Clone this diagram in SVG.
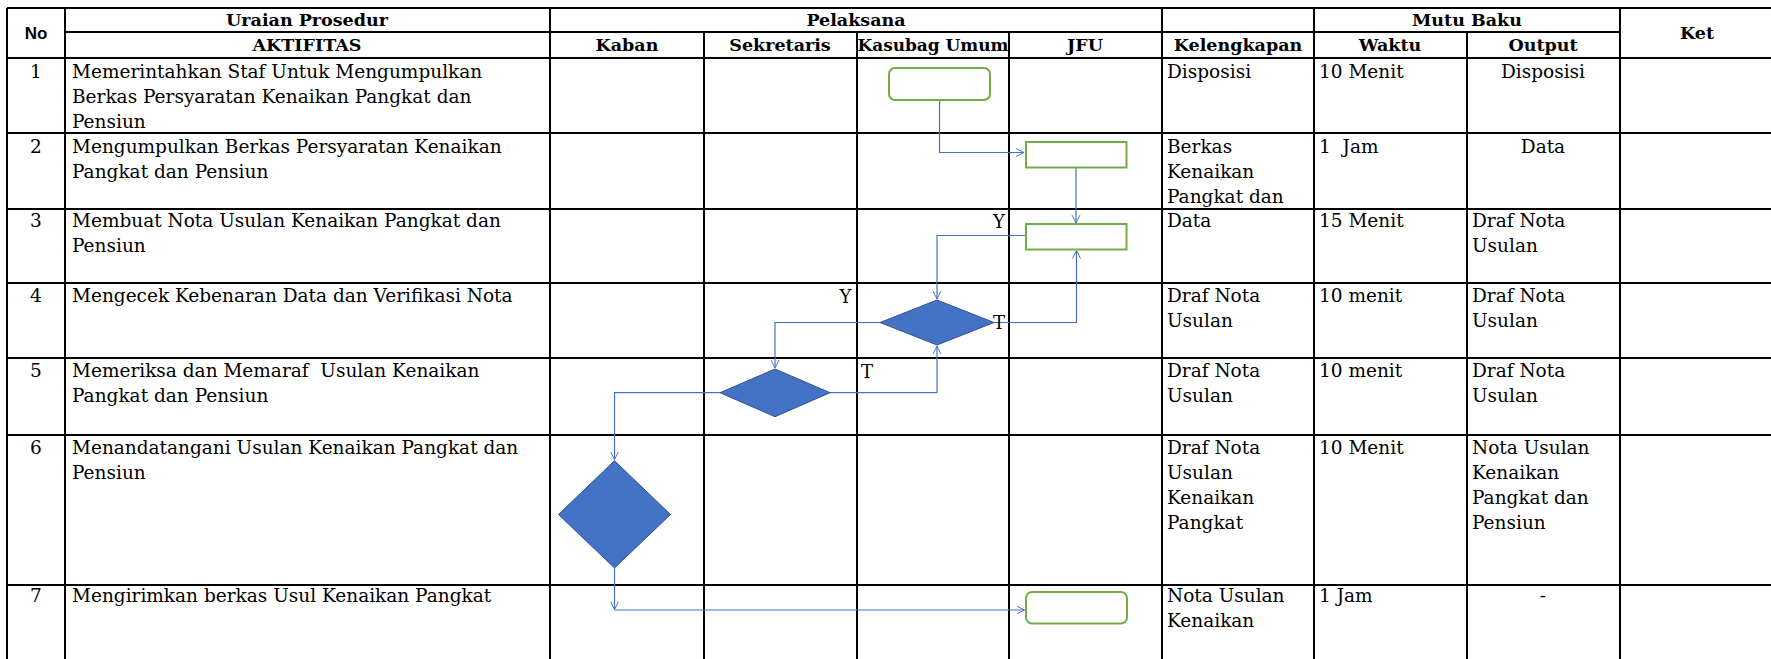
<svg xmlns="http://www.w3.org/2000/svg" width="1771" height="659" viewBox="0 0 1771 659">
<style>
.g{stroke:#000;stroke-width:2;fill:none}
.t{font-family:"DejaVu Serif",serif;font-size:18.5px;fill:#000;white-space:pre}
.h{font-family:"DejaVu Serif",serif;font-size:17.5px;font-weight:bold;fill:#000;text-anchor:middle}
.c{text-anchor:middle}
.box{fill:#fff;stroke:#70AD47;stroke-width:2}
.dia{fill:#4472C4;stroke:#2F528F;stroke-width:1}
.ln{fill:none;stroke:#4472C4;stroke-width:1.2;marker-end:url(#ah)}
.lbl{font-family:"DejaVu Serif",serif;font-size:18px;fill:#000;text-anchor:middle}
</style>
<defs>
<marker id="ah" viewBox="0 0 10 10" refX="10" refY="5" markerWidth="8" markerHeight="10" markerUnits="userSpaceOnUse" orient="auto">
<path d="M0,0 L10,5 L0,10" fill="none" stroke="#4472C4" stroke-width="1.2"/>
</marker>
</defs>
<rect width="1771" height="659" fill="#fff"/>
<g id="grid">
<path class="g" d="M7,8H1771 M65,32H1620 M7,58H1771 M7,133H1771 M7,209H1771 M7,283H1771 M7,358H1771 M7,435H1771 M7,585H1771"/>
<path class="g" d="M7,8V659 M65,8V659 M550,8V659 M1162,8V659 M1314,8V659 M1620,8V659 M704,32V659 M857,32V659 M1009,32V659 M1467,32V659"/>
</g>
<g id="header">
<text x="36" y="39" style="font-family:'Liberation Sans',sans-serif;font-size:17px;font-weight:bold" text-anchor="middle">No</text>
<text class="h" x="307" y="26">Uraian Prosedur</text>
<text class="h" x="307" y="51">AKTIFITAS</text>
<text class="h" x="856" y="26">Pelaksana</text>
<text class="h" x="627" y="51">Kaban</text>
<text class="h" x="780" y="51">Sekretaris</text>
<text class="h" x="857.5" y="51" style="text-anchor:start" textLength="151" lengthAdjust="spacingAndGlyphs">Kasubag Umum</text>
<text class="h" x="1085" y="51">JFU</text>
<text class="h" x="1238" y="51">Kelengkapan</text>
<text class="h" x="1467" y="26">Mutu Baku</text>
<text class="h" x="1390" y="51">Waktu</text>
<text class="h" x="1543" y="51">Output</text>
<text class="h" x="1697" y="39">Ket</text>
</g>
<g id="rows">
<text class="t c" x="36" y="78">1</text>
<text class="t" x="72" y="78"><tspan x="72">Memerintahkan Staf Untuk Mengumpulkan</tspan><tspan x="72" dy="25">Berkas Persyaratan Kenaikan Pangkat dan</tspan><tspan x="72" dy="25">Pensiun</tspan></text>
<text class="t" x="1167" y="78">Disposisi</text>
<text class="t" x="1319" y="78">10 Menit</text>
<text class="t c" x="1543" y="78">Disposisi</text>

<text class="t c" x="36" y="153">2</text>
<text class="t" x="72" y="153"><tspan x="72">Mengumpulkan Berkas Persyaratan Kenaikan</tspan><tspan x="72" dy="25">Pangkat dan Pensiun</tspan></text>
<text class="t" x="1167" y="153"><tspan x="1167">Berkas</tspan><tspan x="1167" dy="25">Kenaikan</tspan><tspan x="1167" dy="25">Pangkat dan</tspan></text>
<text class="t" x="1319" y="153">1  Jam</text>
<text class="t c" x="1543" y="153">Data</text>

<text class="t c" x="36" y="227">3</text>
<text class="t" x="72" y="227"><tspan x="72">Membuat Nota Usulan Kenaikan Pangkat dan</tspan><tspan x="72" dy="25">Pensiun</tspan></text>
<text class="t" x="1167" y="227">Data</text>
<text class="t" x="1319" y="227">15 Menit</text>
<text class="t" x="1472" y="227"><tspan x="1472">Draf Nota</tspan><tspan x="1472" dy="25">Usulan</tspan></text>

<text class="t c" x="36" y="302">4</text>
<text class="t" x="72" y="302">Mengecek Kebenaran Data dan Verifikasi Nota</text>
<text class="t" x="1167" y="302"><tspan x="1167">Draf Nota</tspan><tspan x="1167" dy="25">Usulan</tspan></text>
<text class="t" x="1319" y="302">10 menit</text>
<text class="t" x="1472" y="302"><tspan x="1472">Draf Nota</tspan><tspan x="1472" dy="25">Usulan</tspan></text>

<text class="t c" x="36" y="377">5</text>
<text class="t" x="72" y="377"><tspan x="72">Memeriksa dan Memaraf  Usulan Kenaikan</tspan><tspan x="72" dy="25">Pangkat dan Pensiun</tspan></text>
<text class="t" x="1167" y="377"><tspan x="1167">Draf Nota</tspan><tspan x="1167" dy="25">Usulan</tspan></text>
<text class="t" x="1319" y="377">10 menit</text>
<text class="t" x="1472" y="377"><tspan x="1472">Draf Nota</tspan><tspan x="1472" dy="25">Usulan</tspan></text>

<text class="t c" x="36" y="454">6</text>
<text class="t" x="72" y="454"><tspan x="72">Menandatangani Usulan Kenaikan Pangkat dan</tspan><tspan x="72" dy="25">Pensiun</tspan></text>
<text class="t" x="1167" y="454"><tspan x="1167">Draf Nota</tspan><tspan x="1167" dy="25">Usulan</tspan><tspan x="1167" dy="25">Kenaikan</tspan><tspan x="1167" dy="25">Pangkat</tspan></text>
<text class="t" x="1319" y="454">10 Menit</text>
<text class="t" x="1472" y="454"><tspan x="1472">Nota Usulan</tspan><tspan x="1472" dy="25">Kenaikan</tspan><tspan x="1472" dy="25">Pangkat dan</tspan><tspan x="1472" dy="25">Pensiun</tspan></text>

<text class="t c" x="36" y="602">7</text>
<text class="t" x="72" y="602">Mengirimkan berkas Usul Kenaikan Pangkat</text>
<text class="t" x="1167" y="602"><tspan x="1167">Nota Usulan</tspan><tspan x="1167" dy="25">Kenaikan</tspan></text>
<text class="t" x="1319" y="602">1 Jam</text>
<text class="t c" x="1543" y="602">-</text>
</g>
<g id="connectors">
<path class="ln" d="M939.5,100V152.5H1024"/>
<path class="ln" d="M1076,167V223"/>
<path class="ln" d="M1025,235.5H937V299"/>
<path class="ln" d="M994,322.5H1076.5V250.5"/>
<path class="ln" d="M880,322.5H775V368"/>
<path class="ln" d="M830,392.7H937V346"/>
<path class="ln" d="M720,392.7H614.5V459.5"/>
<path class="ln" d="M614.5,568V609.5"/>
<path class="ln" d="M614.5,610H1024.5"/>
</g>
<g id="node-r1"><rect class="box" x="889" y="68" width="101" height="32" rx="6"/></g>
<g id="node-r2"><rect class="box" x="1026" y="142" width="100.5" height="25.5"/></g>
<g id="node-r3"><rect class="box" x="1026" y="224" width="100.5" height="25.5"/></g>
<g id="node-d1"><polygon class="dia" points="880,322.5 937,300 994,322.5 937,345"/></g>
<g id="node-d2"><polygon class="dia" points="720,392.7 775,369 830,392.7 775,416.7"/></g>
<g id="node-d3"><polygon class="dia" points="558.5,514.5 614.5,460.7 670.5,514.5 614.5,568"/></g>
<g id="node-r4"><rect class="box" x="1026" y="592" width="101" height="31.5" rx="6"/></g>
<g id="labels">
<text class="lbl" x="999" y="228">Y</text>
<text class="lbl" x="845.5" y="303">Y</text>
<text class="lbl" x="999" y="329">T</text>
<text class="lbl" x="867" y="378">T</text>
</g>
</svg>
